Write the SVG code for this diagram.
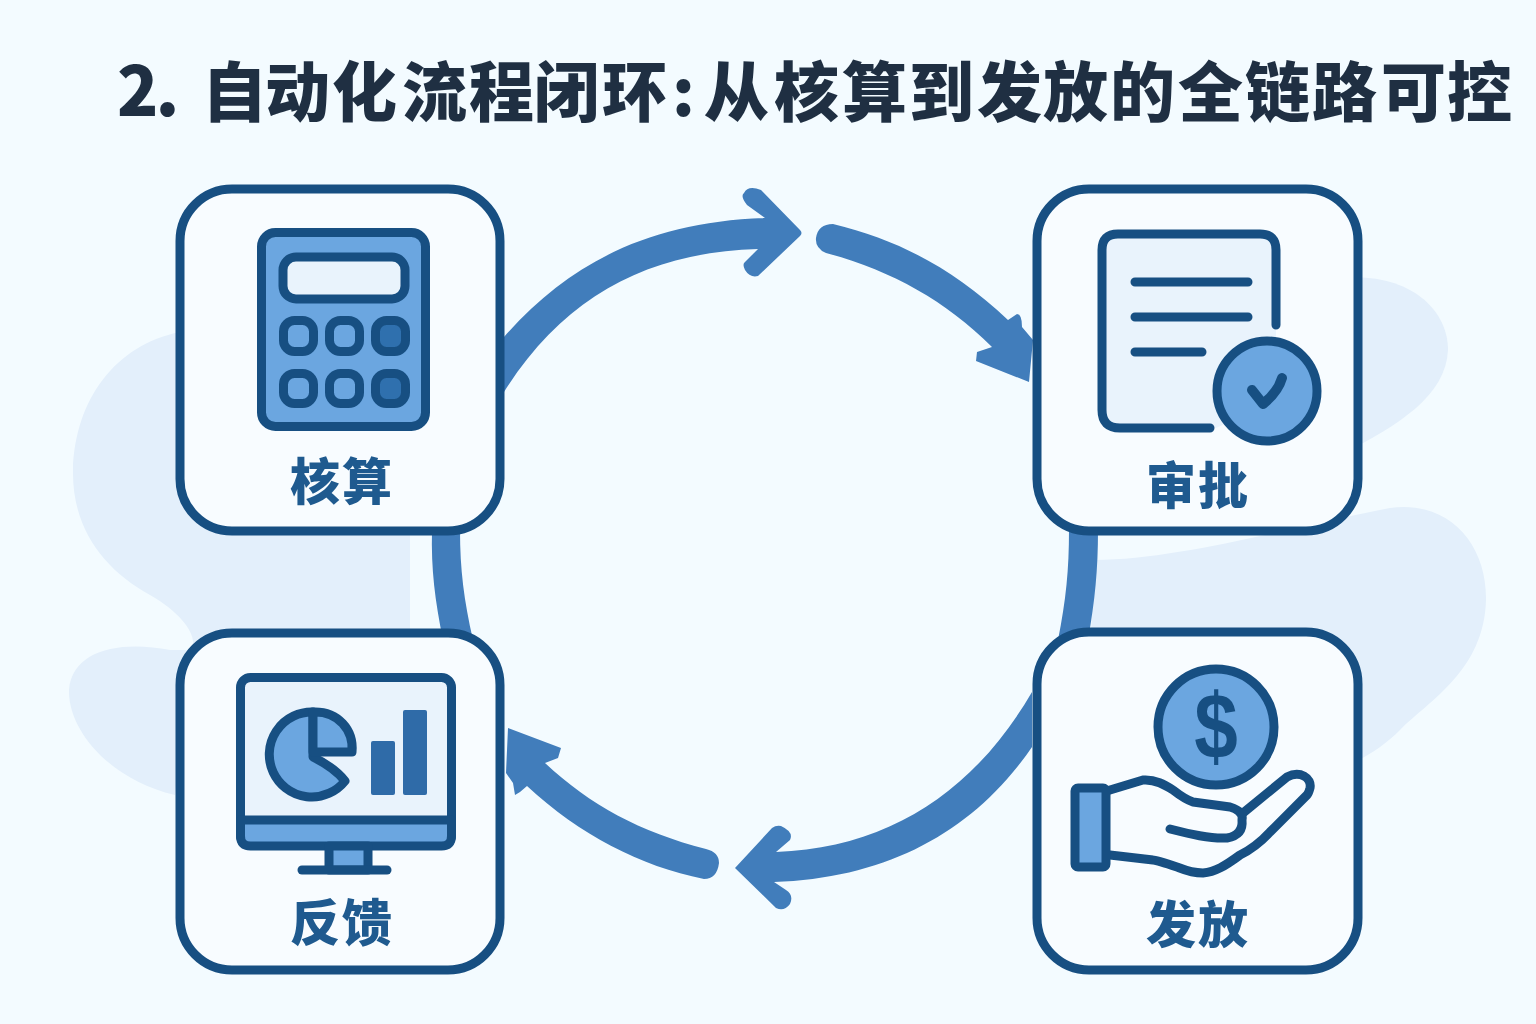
<svg xmlns="http://www.w3.org/2000/svg" width="1536" height="1024" viewBox="0 0 1536 1024">
<defs>
<style>
.card{fill:#f8fcff;stroke:#174f82;stroke-width:9}
.ln{fill:none;stroke:#174f82;stroke-width:9;stroke-linecap:round;stroke-linejoin:round}
.fl{fill:#6ba6e0;stroke:#174f82;stroke-width:9;stroke-linejoin:round}
.dk{fill:#2f70ae;stroke:#174f82;stroke-width:9}
.pale{fill:#e9f3fc;stroke:#174f82;stroke-width:9;stroke-linejoin:round}
.arc{fill:#417dbb}
.blob{fill:#e3effb}
.lab{font-family:"Noto Sans CJK SC","Noto Sans",sans-serif;font-weight:900;font-size:50px;fill:#1f5a8f;text-anchor:middle;letter-spacing:2px}
.title{font-family:"Noto Sans CJK SC","Noto Sans",sans-serif;font-weight:900;font-size:65px;fill:#1f2f42}
</style>
</defs>
<rect width="1536" height="1024" fill="#f3fbff"/>
<g id="background">
<path class="blob" d="M180 332C115 345 75 400 73 470C72 530 105 570 150 595C185 615 200 640 190 650L410 640L410 530L180 400Z"/>
<path class="blob" d="M170 650C120 640 72 650 69 690C68 730 110 780 175 795L190 650Z"/>
<path class="blob" d="M1340 278C1410 272 1448 310 1448 350C1446 395 1400 425 1340 455Z"/>
<path class="blob" d="M1095 560C1180 560 1300 525 1390 508C1450 500 1487 545 1486 600C1484 670 1430 700 1400 730C1385 745 1370 755 1340 770L1340 650L1090 650Z"/>
</g>
<g id="connectors">
<path class="arc" d="M504 337C570 262 650 222 765 218L747 205Q740 196 744 193Q748 185 761 190L800 230Q803 233 800 236L758 276Q750 278 745 270Q742 264 745 262L758 249C650 252 565 295 504 392Z"/>
<path class="arc" d="M833 224C900 240 955 270 1008 320L1017 314Q1022 314 1022 327L1033 340L1029 382L976 361L977 352L992 347C945 300 890 270 826 253Q815 248 816 238Q818 224 833 224Z"/>
<path class="arc" d="M432 530H460C460 570 464 600 473 640H443C435 600 431 570 432 530Z"/>
<path class="arc" d="M1069 530H1098C1098 570 1095 600 1088 640H1058C1066 600 1069 570 1069 530Z"/>
<path class="arc" d="M1032 692C975 790 890 848 776 852L790 840Q794 832 781 826Q776 825 772 828L735 868L776 908Q784 912 790 904Q794 895 786 890L774 882C890 878 975 830 1032 747Z"/>
<path class="arc" d="M545 763C590 805 640 832 706 849Q719 852 719 863Q717 879 704 879C640 866 580 835 527 786L520 792L515 795L513 783L506 773L508 728L561 748L558 758Z"/>
</g>
<text id="title" class="title" y="116"><tspan x="117" font-size="68" letter-spacing="-3">2.</tspan><tspan x="202 265 332 402 469 534 602 672 704 774 842 909 977 1043 1110 1178 1245 1312 1381 1447">自动化流程闭环:从核算到发放的全链路可控</tspan></text>
<g id="node-calc">
<rect class="card" x="180" y="189" width="320" height="342" rx="52"/>
<rect class="fl" x="261.500" y="232.500" width="164" height="194" rx="14"/>
<rect class="pale" x="283" y="257" width="122" height="42" rx="13"/>
<rect class="fl" x="283.500" y="320.500" width="30" height="31" rx="11"/>
<rect class="fl" x="329.500" y="320.500" width="30" height="31" rx="11"/>
<rect class="dk" x="375.500" y="320.500" width="30" height="31" rx="11"/>
<rect class="fl" x="283.500" y="373.500" width="30" height="30" rx="11"/>
<rect class="fl" x="329.500" y="373.500" width="30" height="30" rx="11"/>
<rect class="dk" x="375.500" y="373.500" width="30" height="30" rx="11"/>
<text class="lab" x="342" y="500">核算</text>
</g>
<g id="node-review">
<rect class="card" x="1037" y="189" width="321" height="342" rx="52"/>
<path d="M1216 428L1120 428Q1102 428 1102 410L1102 250Q1102 234 1118 234L1260 234Q1276 234 1276 250L1276 325L1276 400L1216 428Z" fill="#e9f3fc"/>
<path class="ln" d="M1210 428L1120 428Q1102 428 1102 410L1102 250Q1102 234 1118 234L1260 234Q1276 234 1276 250L1276 325"/>
<path class="ln" d="M1135 282H1248M1135 317H1248M1135 352H1202"/>
<circle class="fl" cx="1267" cy="391" r="50"/>
<path class="ln" d="M1252 390L1263 404Q1278 392 1282 378" style="stroke-width:10"/>
<text class="lab" x="1198" y="504">审批</text>
</g>
<g id="node-payout">
<rect class="card" x="1037" y="632" width="321" height="338" rx="52"/>
<circle class="fl" cx="1216" cy="727" r="58"/>
<text transform="translate(1216 758) scale(.85 1)" font-family="Liberation Sans,sans-serif" font-weight="700" font-size="92" fill="#174f82" text-anchor="middle">$</text>
<path class="ln" d="M1110 790L1143 780C1155 779 1165 785 1173 790C1182 797 1187 800 1193 802L1230 807C1240 810 1243 815 1242 820C1243 830 1238 836 1227 838C1210 839 1190 834 1170 829"/>
<path class="ln" d="M1243 813L1287 777C1300 770 1312 778 1310 788C1309 792 1308 794 1307 795L1270 832C1258 845 1250 850 1240 855C1225 866 1215 872 1203 873C1190 873 1180 868 1177 867C1165 863 1155 860 1153 860L1110 855"/>
<rect class="fl" x="1075" y="788" width="31" height="79" rx="3"/>
<text class="lab" x="1198" y="943">发放</text>
</g>
<g id="node-feedback">
<rect class="card" x="180" y="633" width="320" height="337" rx="52"/>
<rect class="pale" x="240.500" y="677.500" width="211" height="168" rx="10"/>
<path class="fl" d="M240.500 820H451.500V836Q451.500 846 441.500 846H250.500Q240.500 846 240.500 836Z"/>
<rect class="fl" x="329" y="846" width="39" height="24"/>
<path class="ln" d="M302 870H387"/>
<path class="fl" d="M313 712A42.500 42.500 0 1 0 345 781Q335 768 313 757Z"/>
<path class="fl" d="M313 712C338 711 354 730 352 752L313 752Z"/>
<rect x="371" y="741" width="24" height="54" rx="2" fill="#2f6ba8"/>
<rect x="403" y="710" width="24" height="85" rx="2" fill="#2f6ba8"/>
<text class="lab" x="342" y="941">反馈</text>
</g>
</svg>
